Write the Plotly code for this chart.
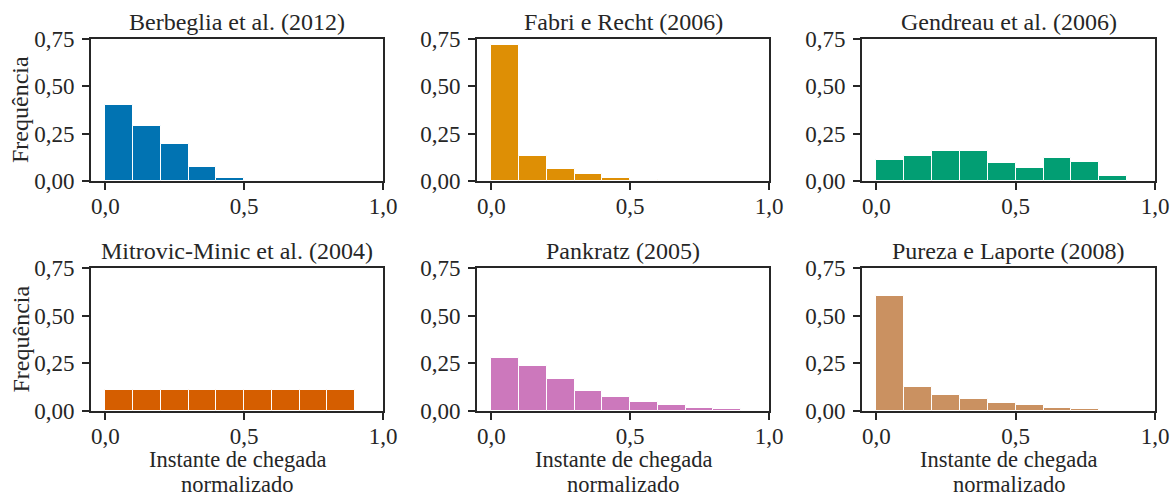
import plotly.graph_objects as go

W, H = 1176, 497

bin_centers = [0.05, 0.15, 0.25, 0.35, 0.45, 0.55, 0.65, 0.75, 0.85]

titles = ["Berbeglia et al. (2012)", "Fabri e Recht (2006)", "Gendreau et al. (2006)",
          "Mitrovic-Minic et al. (2004)", "Pankratz (2005)", "Pureza e Laporte (2008)"]

berbeglia = [0.403, 0.293, 0.198, 0.074, 0.014, 0.0, 0.0, 0.0, 0.0]
fabri = [0.717, 0.133, 0.063, 0.037, 0.016, 0.003, 0.0, 0.0, 0.0]
gendreau = [0.110, 0.130, 0.161, 0.158, 0.093, 0.068, 0.123, 0.098, 0.025]
mitrovic = [0.111, 0.110, 0.111, 0.108, 0.111, 0.112, 0.111, 0.108, 0.111]
pankratz = [0.279, 0.237, 0.170, 0.107, 0.075, 0.047, 0.030, 0.016, 0.009]
pureza = [0.605, 0.128, 0.084, 0.061, 0.042, 0.032, 0.016, 0.009, 0.002]

series = [berbeglia, fabri, gendreau, mitrovic, pankratz, pureza]
colors = ["#0173B2", "#DE8F05", "#029E73", "#D55E00", "#CC78BC", "#CA9161"]

x_tickvals = [0.0, 0.5, 1.0]
x_ticktext = ["0,0", "0,5", "1,0"]
y_tickvals = [0.0, 0.25, 0.5, 0.75]
y_ticktext = ["0,00", "0,25", "0,50", "0,75"]

xlabel_lines = ["Instante de chegada", "normalizado"]
ylabel = "Frequência"

FONT = "Liberation Serif, Times New Roman, serif"
TXT = "#262626"
FS_TITLE = 24
FS_LABEL = 24
FS_XLABEL = 22.5
FS_TICK = 23

# pixel frames of the panels (left, right) and (top, bottom)
cols_px = [(91, 383), (477, 769), (862, 1155)]
rows_px = [(39, 181), (268, 411)]


def py(y):
    return 1 - y / H


fig = go.Figure()
annotations = []
layout = dict(
    width=W, height=H,
    margin=dict(l=0, r=0, t=0, b=0, autoexpand=False),
    paper_bgcolor="white", plot_bgcolor="white",
    showlegend=False, bargap=0,
    font=dict(family=FONT, size=FS_TICK, color=TXT),
)

for i, (vals, col, title) in enumerate(zip(series, colors, titles)):
    r, c = divmod(i, 3)
    n = i + 1
    xa = "x" if n == 1 else f"x{n}"
    ya = "y" if n == 1 else f"y{n}"
    fig.add_trace(go.Bar(
        x=bin_centers, y=vals, width=0.1,
        marker=dict(color=col, line=dict(color="white", width=1)),
        xaxis=xa, yaxis=ya,
    ))
    l, rr = cols_px[c]
    t, b = rows_px[r]
    xd = [l / W, rr / W]
    yd = [py(b), py(t)]
    axstyle = dict(showline=True, mirror=True, linecolor=TXT, linewidth=2,
                   ticks="outside", ticklen=7, tickwidth=1.6, tickcolor=TXT,
                   showgrid=False, zeroline=False, automargin=False,
                   tickfont=dict(family=FONT, size=FS_TICK, color=TXT))
    xkey = "xaxis" if n == 1 else f"xaxis{n}"
    ykey = "yaxis" if n == 1 else f"yaxis{n}"
    layout[xkey] = dict(domain=xd, range=[-0.052, 1.0], anchor=ya,
                        tickvals=x_tickvals, ticktext=x_ticktext,
                        ticklabelstandoff=-4, **axstyle)
    layout[ykey] = dict(domain=yd, range=[0, 0.75], anchor=xa,
                        tickvals=y_tickvals, ticktext=y_ticktext,
                        ticklabelstandoff=3, **axstyle)
    xc = (xd[0] + xd[1]) / 2
    annotations.append(dict(
        text=title, x=xc, y=py(t - 17), xref="paper", yref="paper",
        xanchor="center", yanchor="middle", showarrow=False,
        font=dict(family=FONT, size=FS_TITLE, color=TXT),
    ))
    if r == 1:
        for line, yc in zip(xlabel_lines, [459, 484]):
            annotations.append(dict(
                text=line, x=xc, y=py(yc), xref="paper", yref="paper",
                xanchor="center", yanchor="middle", showarrow=False,
                font=dict(family=FONT, size=FS_XLABEL, color=TXT),
            ))
    if c == 0:
        annotations.append(dict(
            text=ylabel, x=20 / W, y=(yd[0] + yd[1]) / 2, xref="paper", yref="paper",
            xanchor="center", yanchor="middle", textangle=-90, showarrow=False,
            font=dict(family=FONT, size=FS_LABEL, color=TXT),
        ))

layout["annotations"] = annotations
fig.update_layout(**layout)
fig.write_html("out.html")
